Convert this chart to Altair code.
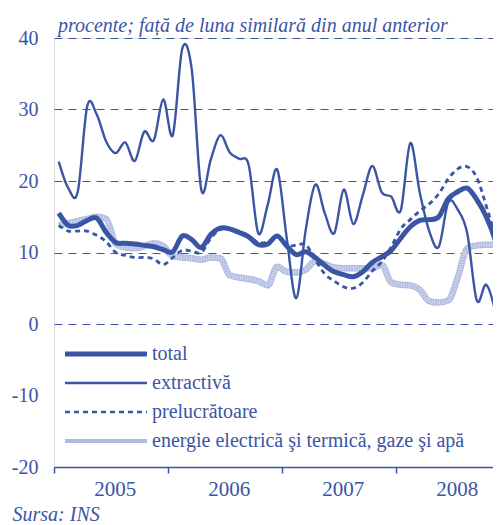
import altair as alt
import pandas as pd

# ---- data (monthly, Jan 2005 - Dec 2008) ----
series_names = ["total", "extractivă", "prelucrătoare",
                "energie electrică şi termică, gaze şi apă"]

total = [15.5, 13.8, 13.8, 14.5, 14.8, 12.8, 11.4, 11.3, 11.2, 11.0, 10.8, 10.4,
         10.1, 12.3, 11.8, 10.7, 12.5, 13.4, 13.3, 12.8, 12.2, 11.1, 11.2, 12.3,
         10.9, 9.7, 10.1, 9.3, 8.2, 7.3, 6.9, 6.6, 7.3, 8.6, 9.4, 10.3,
         12.0, 13.6, 14.5, 14.6, 15.0, 17.5, 18.5, 19.0, 17.4, 15.0, 11.5, 6.0]

extractiva = [22.7, 19.0, 18.5, 30.5, 29.3, 25.5, 23.9, 25.4, 22.8, 26.9, 25.7, 31.4,
              26.4, 38.5, 35.6, 18.8, 23.0, 26.4, 24.0, 23.1, 22.2, 12.7, 16.7, 21.6,
              12.0, 3.6, 13.2, 19.5, 15.5, 12.7, 18.8, 14.0, 18.0, 22.1, 18.4, 17.8,
              15.9, 25.3, 18.4, 13.0, 10.8, 17.0, 16.0, 12.7, 3.3, 5.5, 1.5, -6.0]

prelucratoare = [13.8, 13.0, 13.0, 13.0, 12.4, 11.5, 10.0, 9.6, 9.3, 9.3, 9.1, 8.3,
                 9.3, 10.3, 10.2, 10.0, 12.0, 13.2, 13.3, 12.9, 12.3, 11.4, 11.5, 12.3,
                 11.0, 11.0, 11.1, 9.0, 7.0, 6.0, 5.2, 5.0, 5.8, 7.4, 8.7, 10.8,
                 13.3, 14.6, 15.8, 16.8, 18.2, 20.3, 21.7, 22.0, 20.5, 16.5, 12.0, 6.0]

energie = [13.8, 14.1, 14.4, 14.7, 15.0, 14.7, 11.2, 10.7, 10.6, 10.9, 11.3, 10.9,
           9.5, 9.3, 9.2, 9.0, 9.3, 9.2, 6.8, 6.5, 6.3, 6.0, 5.4, 8.0,
           7.3, 7.2, 7.6, 8.8, 8.4, 7.9, 7.8, 7.8, 7.8, 7.8, 8.3, 5.8,
           5.5, 5.4, 4.8, 3.2, 3.0, 3.3, 6.5, 10.6, 11.0, 11.1, 11.1, 11.0]

rows = []
for name, vals in zip(series_names, [total, extractiva, prelucratoare, energie]):
    for i, v in enumerate(vals):
        rows.append({"t": i + 0.5, "v": v, "series": name})
df = pd.DataFrame(rows)
legend_df = pd.DataFrame({"series": series_names})

BLUE = "#3b55a5"
LIGHT = "#afbbe0"
FONT = "Liberation Serif"

PLOT_W = 439
MONTH_PX = 9.5

x_axis = alt.Axis(
    values=[0, 6.4, 12, 18.4, 24, 30.4, 36, 42.4],
    labelExpr="datum.value % 12 == 0 ? '' : '' + (2005 + floor(datum.value / 12))",
    tickOpacity=alt.condition("datum.value % 12 == 0", alt.value(1), alt.value(0)),
    tickSize=6, tickColor=BLUE, tickWidth=1.5,
    domainColor=BLUE, domainWidth=1.5,
    labelFont=FONT, labelFontSize=21, labelColor=BLUE, labelPadding=5,
    labelFlush=False, labelOverlap=False, grid=False,
    title="Sursa: INS", titleFont=FONT, titleFontSize=20, titleFontStyle="italic",
    titleFontWeight="normal", titleColor=BLUE, titleX=-42, titleY=53,
    titleAlign="left", titleBaseline="alphabetic", titleAnchor="start",
)
y_axis = alt.Axis(
    values=[-20, -10, 0, 10, 20, 30, 40],
    labelExpr="datum.value < 0 ? '-' + abs(datum.value) : '' + datum.value",
    ticks=False, tickSize=0, domain=False,
    labelFont=FONT, labelFontSize=20, labelColor=BLUE, labelPadding=16,
    grid=True, gridColor=BLUE, gridWidth=1.2, gridDash=[8, 6],
    gridOpacity=alt.condition("datum.value < 0", alt.value(0), alt.value(1)),
    title=None,
)

base = alt.Chart(df).encode(
    x=alt.X("t:Q", scale=alt.Scale(domain=[0, PLOT_W / MONTH_PX], nice=False, zero=False),
            axis=x_axis),
    y=alt.Y("v:Q", scale=alt.Scale(domain=[-20, 40], nice=False, zero=False), axis=y_axis),
)


def series(name):
    return base.transform_filter(alt.FieldEqualPredicate(field="series", equal=name))


l_en = series(series_names[3]).mark_line(color=LIGHT, strokeWidth=6.5,
                                         interpolate="monotone", clip=True)
l_en2 = series(series_names[3]).mark_line(color="white", strokeWidth=4.5, strokeDash=[1, 1.5],
                                          opacity=0.5, interpolate="monotone", clip=True)
l_tot = series(series_names[0]).mark_line(color=BLUE, strokeWidth=5, strokeJoin="round",
                                          interpolate="cardinal", clip=True)
l_ex = series(series_names[1]).mark_line(color=BLUE, strokeWidth=2.4, strokeJoin="round",
                                         interpolate="cardinal", clip=True)
l_pr = series(series_names[2]).mark_line(color=BLUE, strokeWidth=2.8, strokeDash=[5, 4],
                                         interpolate="cardinal", clip=True)

lines = alt.layer(l_en, l_en2, l_tot, l_ex, l_pr)

leg_y = alt.Y("series:N", sort=series_names,
              scale=alt.Scale(type="point", range=[316, 403], padding=0), axis=None)
leg_rule = alt.Chart(legend_df).mark_rule().encode(
    x=alt.value(11), x2=alt.value(93), y=leg_y,
    color=alt.Color("series:N", scale=alt.Scale(type="ordinal", domain=series_names,
                                                range=[BLUE, BLUE, BLUE, LIGHT]), legend=None),
    strokeWidth=alt.StrokeWidth("series:N", scale=alt.Scale(type="ordinal", domain=series_names,
                                                            range=[5, 2.4, 2.5, 4]), legend=None),
    strokeDash=alt.StrokeDash("series:N", scale=alt.Scale(type="ordinal", domain=series_names,
                                                          range=[[1, 0], [1, 0], [5, 4], [1, 0]]),
                              legend=None),
)
leg_text = alt.Chart(legend_df).mark_text(
    align="left", baseline="middle", font=FONT, fontSize=20, color=BLUE
).encode(x=alt.value(98), y=leg_y, text="series:N")

legend = alt.layer(leg_rule, leg_text)

chart = alt.layer(lines, legend).resolve_scale(
    y="independent", color="independent", strokeWidth="independent", strokeDash="independent"
).properties(
    width=PLOT_W, height=429,
    padding={"left": 46, "top": 30, "right": 0, "bottom": 58},
    autosize="none",
    title=alt.Title("procente; față de luna similară din anul anterior", anchor="start",
                    frame="group", dx=4, offset=-8, font=FONT, fontSize=20,
                    fontStyle="italic", fontWeight="normal", color=BLUE),
).configure_view(stroke=None).configure(background="white")

chart.save("out.html", embed_options={"renderer": "svg", "actions": False})
